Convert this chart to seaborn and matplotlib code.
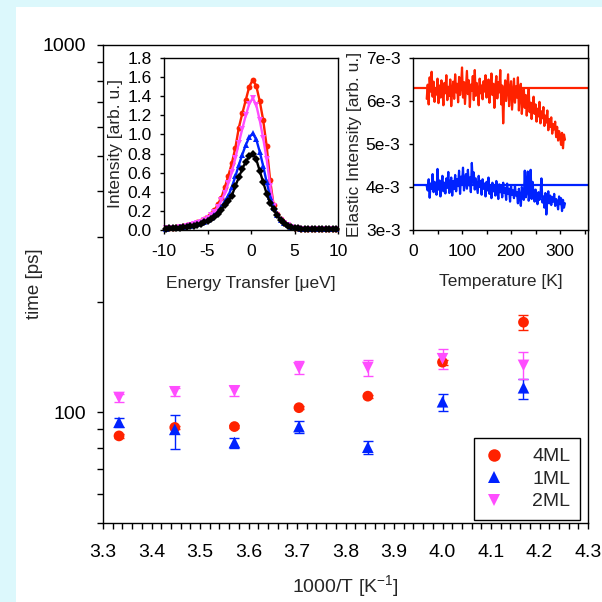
import matplotlib
matplotlib.use("Agg")
import numpy as np
import pandas as pd
import matplotlib.pyplot as plt
import seaborn as sns
from matplotlib.patches import Rectangle
from matplotlib.lines import Line2D
from matplotlib.ticker import (FixedLocator, MultipleLocator, NullFormatter,
                               FormatStrFormatter, FuncFormatter, LogLocator)

# ---------------- relaxation times vs inverse temperature ----------------
inverse_temp = [3.333, 3.448, 3.571, 3.704, 3.846, 4.000, 4.167]

tau_4ml = [86.3, 91.0, 91.5, 103.0, 110.7, 137.0, 176.0]
tau_4ml_lo = [85.3, 90.0, 90.5, 102.0, 109.7, 135.0, 168.0]
tau_4ml_hi = [87.3, 92.0, 92.5, 104.0, 111.7, 139.0, 184.0]

tau_1ml = [94.0, 89.9, 82.8, 91.5, 80.4, 106.9, 116.7]
tau_1ml_lo = [91.0, 79.4, 80.0, 87.7, 77.0, 100.6, 109.0]
tau_1ml_hi = [96.8, 98.3, 85.0, 94.7, 83.6, 112.0, 123.0]

tau_2ml = [109.8, 113.8, 114.5, 132.2, 132.5, 140.0, 134.3]
tau_2ml_lo = [107.0, 111.0, 111.0, 127.0, 126.0, 131.6, 123.0]
tau_2ml_hi = [112.0, 116.7, 118.0, 138.0, 139.0, 149.0, 146.0]

# ---------------- quasi-elastic spectra ----------------
energy = [-9.8, -9.4, -9.0, -8.6, -8.2, -7.8, -7.4, -7.0, -6.6, -6.2,
          -5.8, -5.4, -5.0, -4.6, -4.2, -3.8, -3.4, -3.0, -2.6, -2.2,
          -1.8, -1.4, -1.0, -0.6, -0.2, 0.2, 0.6, 1.0, 1.4, 1.8,
          2.2, 2.6, 3.0, 3.4, 3.8, 4.2, 4.6, 5.0, 5.4, 5.8,
          6.2, 6.6, 7.0, 7.4, 7.8, 8.2, 8.6, 9.0, 9.4, 9.8]

spec_4ml = [0.017, 0.020, 0.024, 0.028, 0.034, 0.040, 0.048, 0.057, 0.068, 0.080,
            0.095, 0.115, 0.140, 0.170, 0.205, 0.270, 0.340, 0.450, 0.570, 0.700,
            0.860, 1.070, 1.220, 1.360, 1.500, 1.570, 1.510, 1.350, 1.150, 0.880,
            0.520, 0.260, 0.165, 0.110, 0.075, 0.050, 0.034, 0.024, 0.018, 0.014,
            0.012, 0.011, 0.010, 0.010, 0.009, 0.009, 0.009, 0.009, 0.008, 0.008]

spec_2ml = [0.016, 0.019, 0.022, 0.026, 0.030, 0.036, 0.042, 0.050, 0.060, 0.072,
            0.085, 0.100, 0.125, 0.155, 0.190, 0.240, 0.310, 0.390, 0.490, 0.610,
            0.750, 0.910, 1.060, 1.200, 1.320, 1.380, 1.310, 1.150, 0.960, 0.740,
            0.460, 0.250, 0.160, 0.108, 0.073, 0.049, 0.033, 0.023, 0.017, 0.013,
            0.011, 0.010, 0.010, 0.009, 0.009, 0.009, 0.008, 0.008, 0.008, 0.008]

spec_1ml = [0.015, 0.017, 0.020, 0.023, 0.027, 0.031, 0.037, 0.043, 0.050, 0.060,
            0.072, 0.085, 0.100, 0.125, 0.155, 0.190, 0.240, 0.300, 0.360, 0.450,
            0.560, 0.680, 0.790, 0.890, 0.970, 1.010, 0.950, 0.820, 0.670, 0.500,
            0.350, 0.230, 0.158, 0.106, 0.072, 0.048, 0.033, 0.023, 0.017, 0.013,
            0.011, 0.010, 0.009, 0.009, 0.009, 0.008, 0.008, 0.008, 0.008, 0.008]

spec_bulk = [0.014, 0.016, 0.019, 0.022, 0.025, 0.029, 0.034, 0.040, 0.047, 0.056,
             0.066, 0.080, 0.095, 0.115, 0.140, 0.170, 0.210, 0.260, 0.300, 0.360,
             0.460, 0.550, 0.640, 0.715, 0.770, 0.800, 0.740, 0.620, 0.500, 0.380,
             0.280, 0.215, 0.155, 0.105, 0.071, 0.047, 0.032, 0.022, 0.016, 0.012,
             0.010, 0.009, 0.009, 0.008, 0.008, 0.008, 0.008, 0.008, 0.008, 0.008]

# ---------------- elastic intensity scans (units of 1e-3) ----------------
temperature = [28, 30, 32, 34, 36, 38, 40, 42, 44, 46,
               48, 50, 52, 54, 56, 58, 60, 62, 64, 66,
               68, 70, 72, 74, 76, 78, 80, 82, 84, 86,
               88, 90, 92, 94, 96, 98, 100, 102, 104, 106,
               108, 110, 112, 114, 116, 118, 120, 122, 124, 126,
               128, 130, 132, 134, 136, 138, 140, 142, 144, 146,
               148, 150, 152, 154, 156, 158, 160, 162, 164, 166,
               168, 170, 172, 174, 176, 178, 180, 182, 184, 186,
               188, 190, 192, 194, 196, 198, 200, 202, 204, 206,
               208, 210, 212, 214, 216, 218, 220, 222, 224, 226,
               228, 230, 232, 234, 236, 238, 240, 242, 244, 246,
               248, 250, 252, 254, 256, 258, 260, 262, 264, 266,
               268, 270, 272, 274, 276, 278, 280, 282, 284, 286,
               288, 290, 292, 294, 296, 298, 300, 302, 304, 306,
               308, 310]

elastic_4ml = [6.05, 6.38, 5.92, 6.55, 6.22, 6.68, 6.10, 6.45, 5.98, 6.30,
               6.15, 6.52, 5.95, 6.36, 6.08, 6.48, 6.25, 5.90, 6.42, 6.18,
               6.60, 6.02, 6.33, 6.12, 6.50, 5.88, 6.27, 6.45, 6.05, 6.62,
               6.20, 6.40, 5.97, 6.56, 6.14, 6.35, 6.78, 6.08, 6.44, 5.93,
               6.30, 6.70, 6.16, 6.48, 5.86, 6.38, 6.24, 6.58, 6.02, 6.72,
               6.12, 6.42, 6.26, 5.90, 6.52, 6.18, 6.36, 6.04, 6.46, 6.22,
               6.60, 6.08, 6.34, 6.50, 5.96, 6.28, 6.64, 6.14, 6.40, 5.84,
               6.32, 6.58, 6.06, 6.44, 6.20, 6.72, 5.92, 6.36, 5.48, 6.10,
               6.48, 6.00, 6.30, 6.62, 5.88, 6.26, 6.46, 5.80, 6.18, 6.52,
               5.96, 6.34, 6.08, 6.55, 5.78, 6.22, 6.40, 5.70, 6.12, 6.30,
               5.84, 6.14, 5.66, 6.02, 6.28, 5.74, 5.96, 5.58, 5.90, 6.10,
               5.70, 5.92, 5.52, 5.82, 5.64, 5.98, 5.48, 5.76, 5.60, 5.86,
               5.42, 5.66, 5.50, 5.78, 5.32, 5.58, 5.40, 5.62, 5.24, 5.46,
               5.34, 5.52, 5.16, 5.40, 5.08, 5.30, 5.20, 4.98, 5.26, 4.90,
               5.22, 5.10]

elastic_1ml = [4.02, 3.92, 4.18, 3.75, 4.08, 3.96, 4.30, 3.88, 4.12, 4.00,
               3.82, 4.42, 3.94, 4.15, 3.78, 4.05, 4.26, 3.90, 4.10, 3.85,
               4.20, 3.98, 4.35, 3.86, 4.06, 4.22, 3.80, 4.14, 3.95, 4.28,
               3.90, 4.18, 4.02, 4.38, 3.84, 4.24, 4.08, 4.45, 3.92, 4.16,
               4.30, 3.96, 4.40, 4.04, 4.22, 3.88, 4.56, 4.10, 4.34, 3.94,
               4.20, 4.02, 3.86, 4.26, 4.00, 4.14, 3.82, 4.18, 3.96, 4.08,
               3.78, 4.12, 3.92, 4.22, 3.84, 4.02, 3.74, 4.10, 3.90, 4.04,
               3.80, 4.14, 3.95, 3.72, 4.06, 3.88, 4.00, 3.76, 4.10, 3.86,
               3.98, 3.70, 4.08, 3.84, 3.96, 3.66, 4.02, 3.82, 3.92, 3.74,
               4.04, 3.80, 3.88, 3.62, 3.96, 3.78, 3.56, 4.00, 3.84, 3.70,
               4.38, 3.76, 3.90, 4.36, 3.68, 3.86, 4.40, 3.72, 4.12, 3.80,
               3.66, 3.94, 3.74, 3.60, 3.88, 3.70, 3.82, 4.20, 3.64, 3.78,
               3.52, 3.86, 3.36, 3.72, 3.90, 3.62, 3.80, 3.58, 3.76, 3.66,
               3.84, 3.56, 3.72, 3.64, 3.48, 3.78, 3.60, 3.74, 3.44, 3.70,
               3.52, 3.62]

level_4ml = 6.30
level_1ml = 4.04

# ---------------- styling ----------------
RED = "#ff2200"
BLUE = "#0022ff"
MAGENTA = "#ff4dff"
BLACK = "#000000"

sns.set_theme(style="ticks")
plt.rcParams["font.family"] = ["Liberation Sans", "DejaVu Sans"]
plt.rcParams["mathtext.fontset"] = "custom"
plt.rcParams["mathtext.rm"] = "Liberation Sans"
plt.rcParams["mathtext.it"] = "Liberation Sans:italic"
plt.rcParams["axes.unicode_minus"] = False
plt.rcParams["axes.edgecolor"] = "black"
plt.rcParams["axes.linewidth"] = 1.0
plt.rcParams["xtick.color"] = "black"
plt.rcParams["ytick.color"] = "black"

FS_MAIN = 14
FS_INSET = 12.5

fig = plt.figure(figsize=(6.02, 6.02), dpi=100)
fig.patch.set_facecolor("#dcf8fc")
fig.add_artist(Rectangle((16 / 602, 0), 1, 1 - 7 / 602, transform=fig.transFigure,
                         facecolor="white", edgecolor="none", zorder=-10))


def px_axes(left, top, right, bottom):
    return fig.add_axes([left / 602, 1 - bottom / 602,
                         (right - left) / 602, (bottom - top) / 602])


# ---------------- main panel ----------------
ax = px_axes(103, 45, 588, 523)
ax.set_facecolor("white")

series = [
    ("4ML", tau_4ml, tau_4ml_lo, tau_4ml_hi, RED, "o", 60),
    ("1ML", tau_1ml, tau_1ml_lo, tau_1ml_hi, BLUE, "^", 70),
    ("2ML", tau_2ml, tau_2ml_lo, tau_2ml_hi, MAGENTA, "v", 70),
]
handles = []
for label, y, lo, hi, col, mk, size in series:
    y = np.asarray(y)
    yerr = [y - np.asarray(lo), np.asarray(hi) - y]
    ax.errorbar(inverse_temp, y, yerr=yerr, fmt="none", ecolor=col,
                elinewidth=1.0, capsize=3.5, capthick=1.0, zorder=2)
    df = pd.DataFrame({"x": inverse_temp, "y": y})
    sns.scatterplot(data=df, x="x", y="y", marker=mk, s=size, color=col,
                    edgecolor="none", linewidth=0, ax=ax, zorder=3)
    handles.append(Line2D([], [], linestyle="none", marker=mk, color=col,
                          markersize=9, markeredgewidth=0, label=label))

ax.set_yscale("log")
ax.set_ylim(50, 1000)
ax.set_xlim(3.3, 4.3)
ax.yaxis.set_major_locator(FixedLocator([100, 1000]))
ax.yaxis.set_major_formatter(FuncFormatter(lambda v, p: f"{v:.0f}"))
ax.yaxis.set_minor_locator(LogLocator(base=10, subs=np.arange(2, 10)))
ax.yaxis.set_minor_formatter(NullFormatter())
ax.xaxis.set_major_locator(MultipleLocator(0.1))
ax.xaxis.set_minor_locator(MultipleLocator(0.02))
ax.xaxis.set_major_formatter(FormatStrFormatter("%.1f"))
ax.tick_params(which="both", direction="out", length=4, width=1, labelsize=FS_MAIN)
ax.tick_params(axis="x", which="both", pad=11)
ax.tick_params(axis="y", which="both", pad=8)
ax.set_xlabel("1000/T [K$^{-1}$]", fontsize=FS_MAIN, labelpad=9)
ax.set_ylabel("time [ps]", fontsize=13.5, labelpad=0)
for s in ax.spines.values():
    s.set_visible(True)
    s.set_color("black")

leg = ax.legend(handles=handles, loc="lower right", bbox_to_anchor=(0.984, 0.006),
                borderaxespad=0, frameon=True, fancybox=False, framealpha=1,
                edgecolor="black", fontsize=FS_MAIN, handlelength=1.0,
                handletextpad=1.5, borderpad=0.5, labelspacing=0.25)
leg.get_frame().set_linewidth(1.0)

# ---------------- inset: quasi-elastic spectra ----------------
ax1 = px_axes(164, 58, 338, 230)
ax1.set_facecolor("white")
spectra = [
    (spec_4ml, RED, "o", 4.2),
    (spec_2ml, MAGENTA, "v", 4.6),
    (spec_1ml, BLUE, "^", 4.6),
    (spec_bulk, BLACK, "D", 3.6),
]
for vals, col, mk, ms in spectra:
    sns.lineplot(x=energy, y=vals, color=col, marker=mk, markersize=ms,
                 markeredgewidth=0, linewidth=1.7, ax=ax1)
for ln in ax1.lines:
    ln.set_clip_on(False)
ax1.set_xlim(-10, 10)
ax1.set_ylim(0, 1.8)
ax1.xaxis.set_major_locator(MultipleLocator(5))
ax1.yaxis.set_major_locator(MultipleLocator(0.2))
ax1.yaxis.set_major_formatter(FormatStrFormatter("%.1f"))
ax1.tick_params(direction="out", length=3, width=1, labelsize=FS_INSET)
ax1.tick_params(axis="x", pad=7)
ax1.tick_params(axis="y", pad=6)
ax1.set_xlabel("Energy Transfer [μeV]", fontsize=FS_INSET, labelpad=12)
ax1.set_ylabel("Intensity [arb. u.]", fontsize=FS_INSET, labelpad=3)
for s in ax1.spines.values():
    s.set_visible(True)
    s.set_color("black")

# ---------------- inset: elastic intensity vs temperature ----------------
ax2 = px_axes(413, 58, 588, 230)
ax2.set_facecolor("white")
sns.lineplot(x=temperature, y=elastic_4ml, color=RED, linewidth=1.6, ax=ax2)
sns.lineplot(x=temperature, y=elastic_1ml, color=BLUE, linewidth=1.6, ax=ax2)
ax2.axhline(level_4ml, color=RED, linewidth=1.6)
ax2.axhline(level_1ml, color=BLUE, linewidth=1.6)
ax2.set_xlim(0, 357)
ax2.set_ylim(3, 7)
ax2.xaxis.set_major_locator(MultipleLocator(100))
ax2.xaxis.set_minor_locator(MultipleLocator(50))
ax2.yaxis.set_major_locator(MultipleLocator(1))
ax2.yaxis.set_major_formatter(FuncFormatter(lambda v, p: f"{v:.0f}e-3"))
ax2.tick_params(which="both", direction="out", length=3, width=1, labelsize=FS_INSET)
ax2.tick_params(axis="x", which="both", pad=7)
ax2.tick_params(axis="y", which="both", pad=6)
ax2.set_xlabel("Temperature [K]", fontsize=FS_INSET, labelpad=11)
ax2.set_ylabel("Elastic Intensity [arb. u.]", fontsize=FS_INSET, labelpad=3)
for s in ax2.spines.values():
    s.set_visible(True)
    s.set_color("black")

fig.savefig("out.png", dpi=100, facecolor=fig.get_facecolor())
